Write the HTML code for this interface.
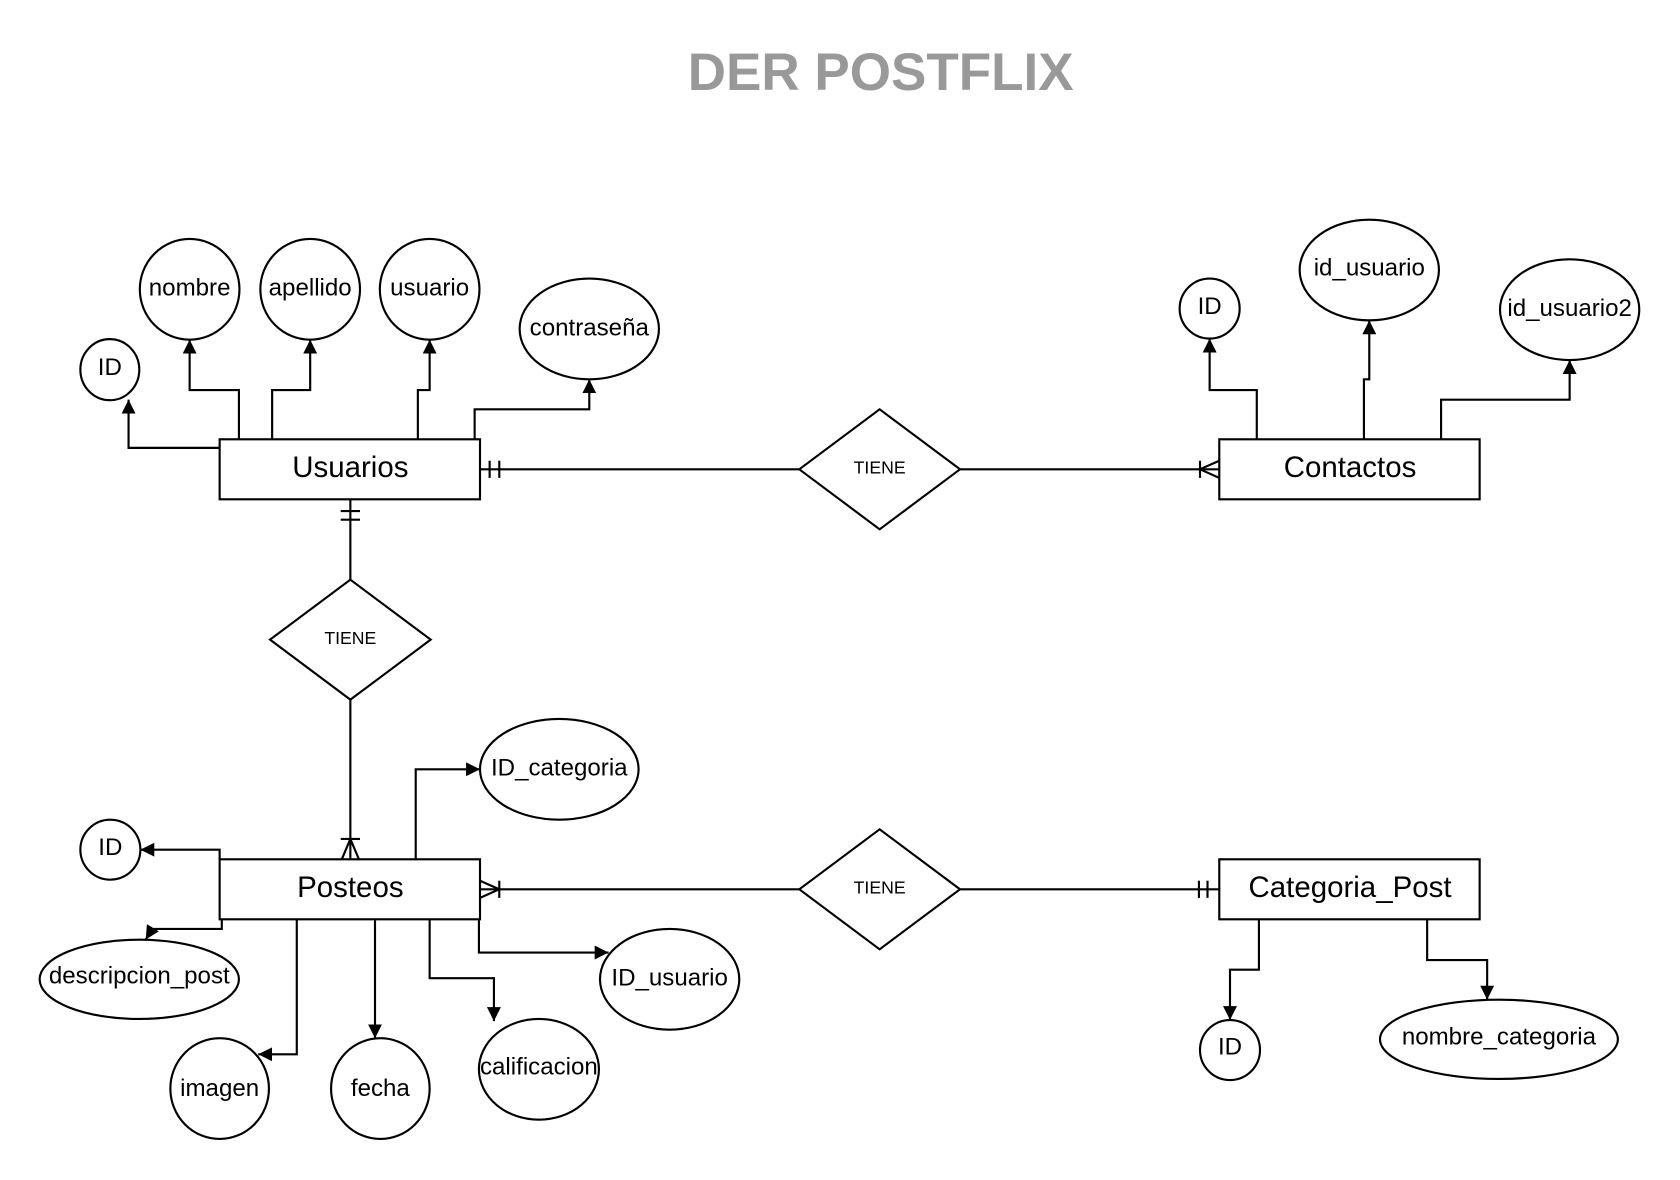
<!DOCTYPE html>
<html><head><meta charset="utf-8"><style>
html,body{margin:0;padding:0;background:#fff;}
svg{display:block;}
text{font-family:"Liberation Sans",Arial,sans-serif;fill:#000;}
</style></head><body>
<svg width="1680" height="1180" viewBox="0 0 1568 1101.3" xmlns="http://www.w3.org/2000/svg">
<defs>
<marker id="a" viewBox="0 0 10 10" refX="10" refY="5" markerWidth="13" markerHeight="13" markerUnits="userSpaceOnUse" orient="auto">
<path d="M0,0 L10,5 L0,10 z" fill="#000"/></marker>
</defs>
<rect width="1568" height="1102" fill="#fff"/>
<text x="822" y="84" font-size="49.5" font-weight="bold" text-anchor="middle" style="fill:#999">DER POSTFLIX</text>

<g fill="none" stroke="#000" stroke-width="2">
<rect x="205" y="410" width="243" height="56" fill="#fff"/>
<rect x="1138" y="410" width="243" height="56" fill="#fff"/>
<rect x="205" y="802" width="243" height="56" fill="#fff"/>
<rect x="1138" y="802" width="243" height="56" fill="#fff"/>
<polygon points="746,438 821,382 896,438 821,494"/>
<polygon points="252,597 327,541 402,597 327,653"/>
<polygon points="746,830 821,774 896,830 821,886"/>
<line x1="448" y1="438" x2="746" y2="438"/>
<line x1="457" y1="430" x2="457" y2="446"/><line x1="466" y1="430" x2="466" y2="446"/>
<line x1="896" y1="438" x2="1138" y2="438"/>
<line x1="1120" y1="430" x2="1120" y2="446"/>
<path d="M1138,430 L1120,438 L1138,446"/>
<line x1="327" y1="466" x2="327" y2="541"/>
<line x1="318" y1="477" x2="336" y2="477"/><line x1="318" y1="485" x2="336" y2="485"/>
<line x1="327" y1="653" x2="327" y2="802"/>
<line x1="318" y1="783" x2="336" y2="783"/>
<path d="M319,802 L327,783 L335,802"/>
<line x1="448" y1="830" x2="746" y2="830"/>
<line x1="466" y1="822" x2="466" y2="838"/>
<path d="M448,822 L466,830 L448,838"/>
<line x1="896" y1="830" x2="1138" y2="830"/>
<line x1="1119" y1="822" x2="1119" y2="838"/><line x1="1127" y1="822" x2="1127" y2="838"/>

<ellipse cx="102.5" cy="345" rx="27.5" ry="28.5"/>
<ellipse cx="177" cy="270" rx="46.5" ry="47"/>
<ellipse cx="289.5" cy="270" rx="46.5" ry="47"/>
<ellipse cx="401" cy="270" rx="46.5" ry="47"/>
<ellipse cx="550" cy="307" rx="65" ry="47"/>
<path d="M205,418 H120 V373" marker-end="url(#a)"/>
<path d="M223,410 V364 H177 V317" marker-end="url(#a)"/>
<path d="M254,410 V364 H289.5 V317" marker-end="url(#a)"/>
<path d="M390,410 V364 H401 V317" marker-end="url(#a)"/>
<path d="M443,410 V382 H550 V354" marker-end="url(#a)"/>
<ellipse cx="1129" cy="288" rx="28" ry="28"/>
<ellipse cx="1278" cy="252" rx="65" ry="47"/>
<ellipse cx="1465" cy="289" rx="65" ry="47"/>
<path d="M1173,410 V364 H1129 V316" marker-end="url(#a)"/>
<path d="M1273,410 V354 H1278 V299" marker-end="url(#a)"/>
<path d="M1345,410 V373 H1465 V336" marker-end="url(#a)"/>
<ellipse cx="103" cy="793" rx="28" ry="28"/>
<ellipse cx="130" cy="914" rx="93" ry="37"/>
<ellipse cx="205" cy="1016" rx="46" ry="47"/>
<ellipse cx="355" cy="1016" rx="46" ry="47"/>
<ellipse cx="503" cy="998" rx="56" ry="47"/>
<ellipse cx="625" cy="914" rx="65" ry="47"/>
<ellipse cx="522" cy="718" rx="74" ry="47"/>
<path d="M205,802 V793 H131" marker-end="url(#a)"/>
<path d="M207,858 V867 H142 L136,877" marker-end="url(#a)"/>
<path d="M277,858 V984 H241" marker-end="url(#a)"/>
<path d="M350,858 V969" marker-end="url(#a)"/>
<path d="M401,858 V913 H461 V953" marker-end="url(#a)"/>
<path d="M447,858 V889 H568" marker-end="url(#a)"/>
<path d="M388,802 V718 H448" marker-end="url(#a)"/>
<ellipse cx="1148" cy="980" rx="28" ry="28"/>
<ellipse cx="1399" cy="970" rx="111" ry="37"/>
<path d="M1175,858 V905 H1148 V952" marker-end="url(#a)"/>
<path d="M1332,858 V896 H1388 V933" marker-end="url(#a)"/>
</g>

<g font-size="27.5" text-anchor="middle">
<text x="327" y="445">Usuarios</text>
<text x="1260" y="445">Contactos</text>
<text x="327" y="837">Posteos</text>
<text x="1260" y="837">Categoria_Post</text>
</g>
<g font-size="16.5" text-anchor="middle">
<text x="821" y="442">TIENE</text>
<text x="327" y="601">TIENE</text>
<text x="821" y="834">TIENE</text>
</g>
<g font-size="22.5" text-anchor="middle">
<text x="102.5" y="350">ID</text>
<text x="177" y="276">nombre</text>
<text x="289.5" y="276">apellido</text>
<text x="401" y="276">usuario</text>
<text x="550" y="313">contraseña</text>
<text x="1129" y="293">ID</text>
<text x="1278" y="257">id_usuario</text>
<text x="1465" y="295">id_usuario2</text>
<text x="103" y="798">ID</text>
<text x="130" y="918">descripcion_post</text>
<text x="205" y="1023">imagen</text>
<text x="355" y="1023">fecha</text>
<text x="503" y="1003">calificacion</text>
<text x="625" y="920">ID_usuario</text>
<text x="522" y="724">ID_categoria</text>
<text x="1148" y="984">ID</text>
<text x="1399" y="975">nombre_categoria</text>
</g>
</svg>
</body></html>
